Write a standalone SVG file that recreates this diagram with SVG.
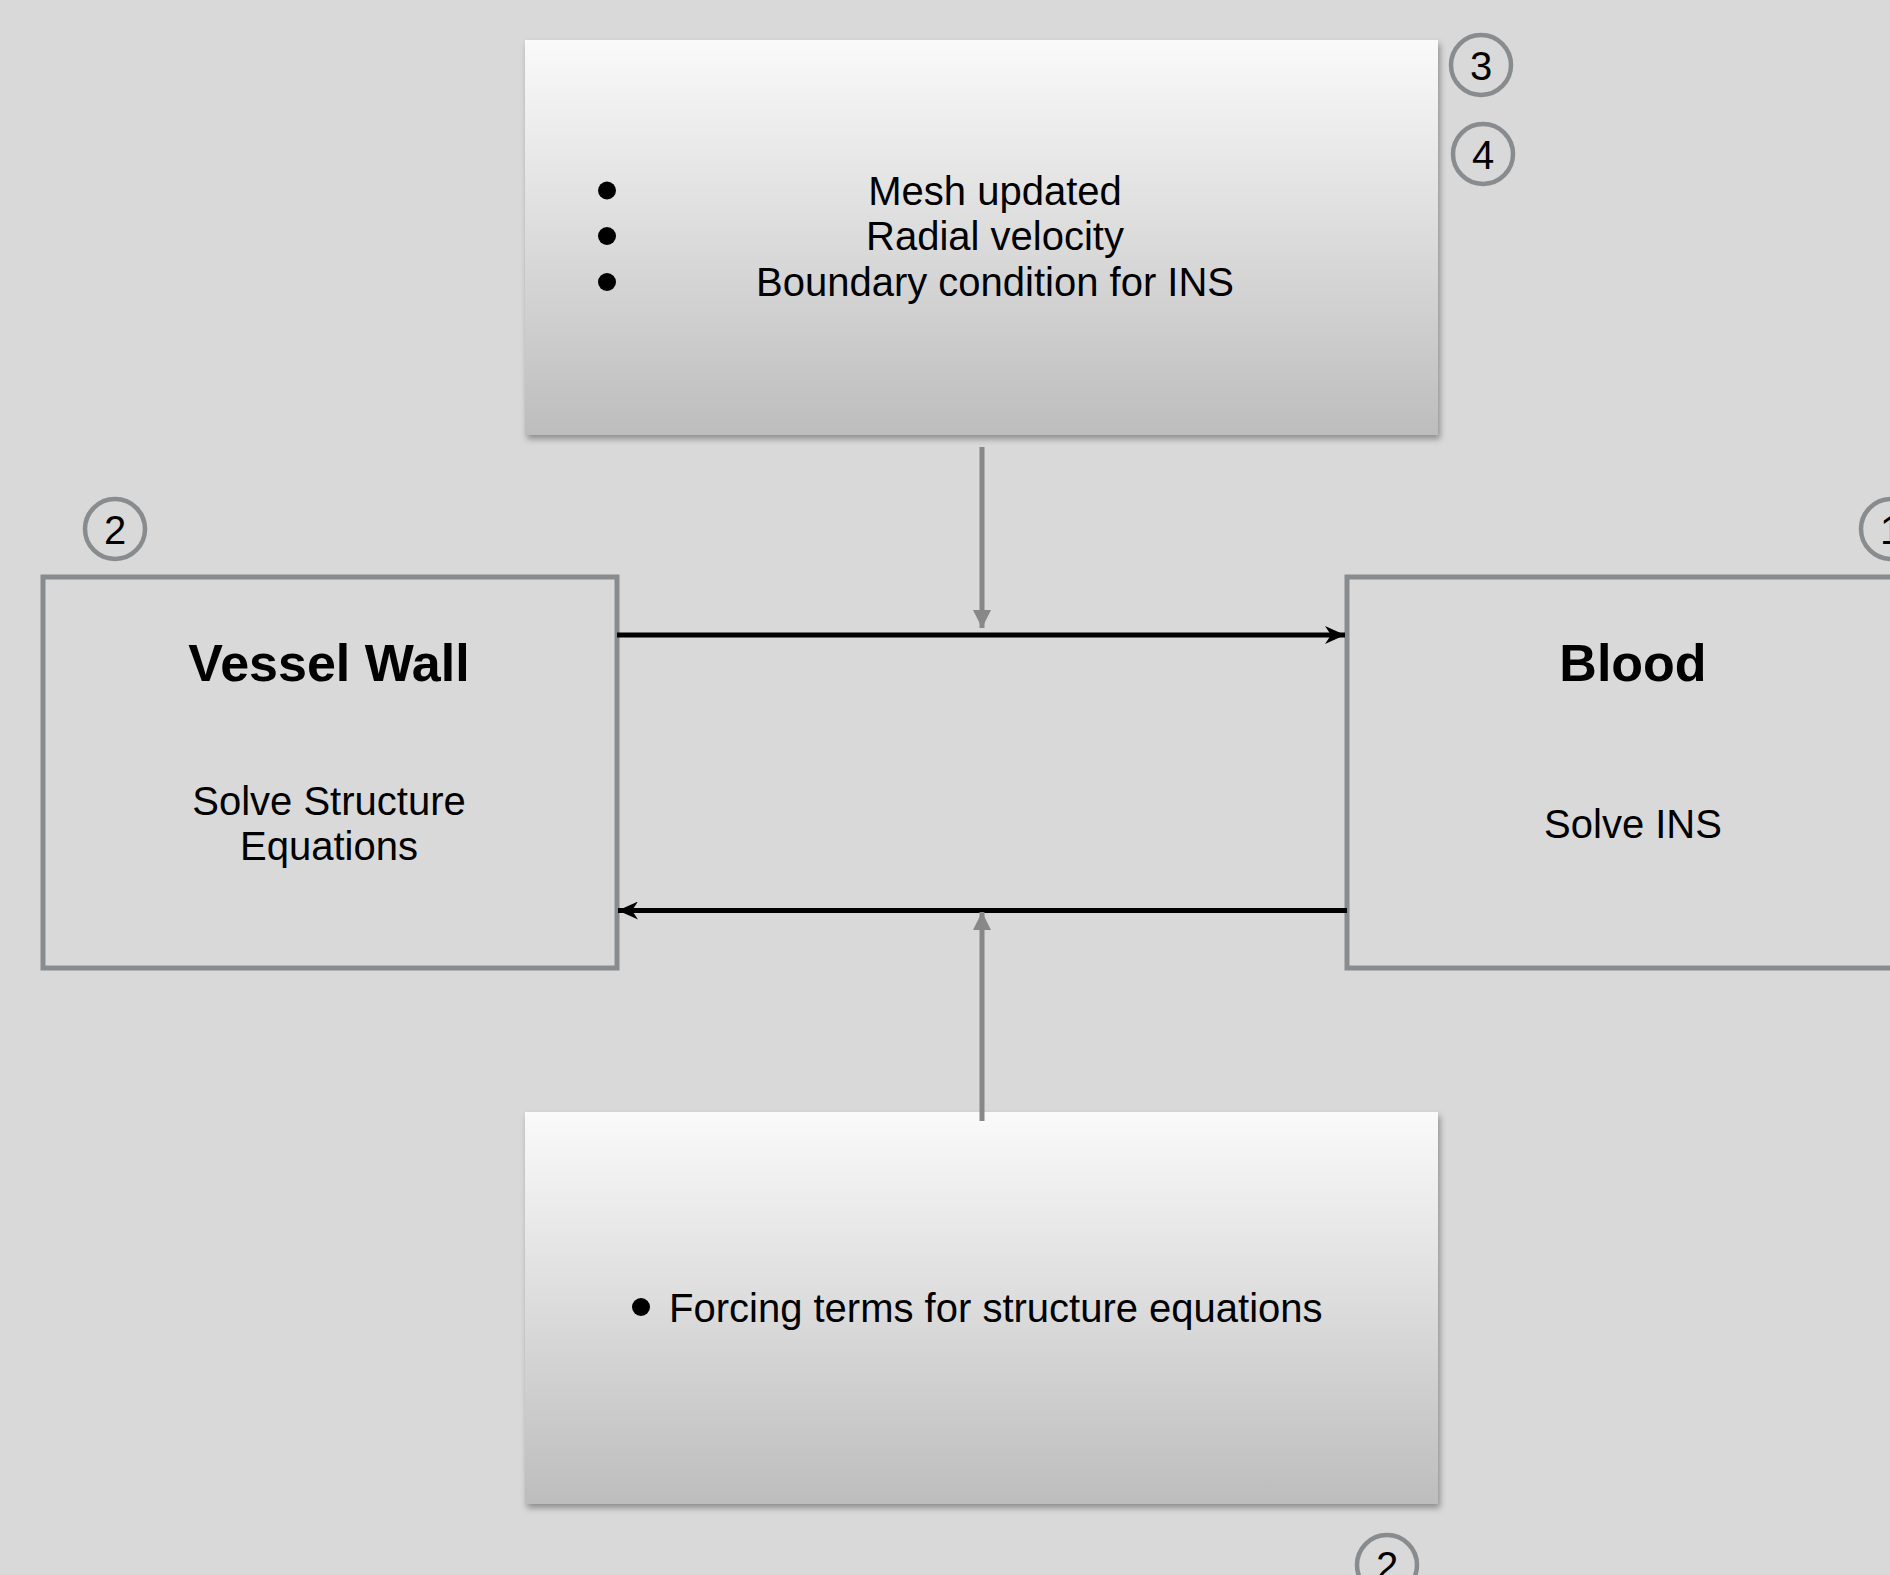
<svg xmlns="http://www.w3.org/2000/svg" width="1890" height="1575" viewBox="0 0 1890 1575">
<style>
.bg{fill:#d9d9d9}
.grad{fill:url(#g1);filter:url(#sh)}
.box{fill:#d9d9d9;stroke:#898c8f;stroke-width:5}
.badge{fill:none;stroke:#898c8f;stroke-width:4.5}
.t{font-family:"Liberation Sans",Arial,sans-serif;font-size:40px;fill:#000}
.title{font-family:"Liberation Sans",Arial,sans-serif;font-size:52px;font-weight:bold;fill:#000}
.mid{text-anchor:middle}
.blk{stroke:#000;stroke-width:5;fill:none}
.gry{stroke:#888;stroke-width:5;fill:none}
</style>
<defs>
<linearGradient id="g1" x1="0" y1="0" x2="0" y2="1">
<stop offset="0" stop-color="#fafafa"/>
<stop offset="1" stop-color="#bdbdbd"/>
</linearGradient>
<filter id="sh" x="-5%" y="-5%" width="110%" height="115%">
<feDropShadow dx="2" dy="4" stdDeviation="3" flood-color="#000" flood-opacity="0.35"/>
</filter>
<marker id="ab" markerUnits="userSpaceOnUse" viewBox="0 0 20 18" refX="20" refY="9" markerWidth="20" markerHeight="18" orient="auto">
<path d="M0,0 L20,9 L0,18 L6,9 z" fill="#000"/>
</marker>
<marker id="ag" markerUnits="userSpaceOnUse" viewBox="0 0 18 18" refX="18" refY="9" markerWidth="18" markerHeight="18" orient="auto">
<path d="M0,0 L18,9 L0,18 z" fill="#888"/>
</marker>
</defs>
<rect class="bg" x="0" y="0" width="1890" height="1575"/>

<g id="top-box">
<rect class="grad" x="525" y="40" width="913" height="395"/>
<circle cx="607" cy="190.5" r="9"/>
<circle cx="607" cy="236" r="9"/>
<circle cx="607" cy="282" r="9"/>
<text class="t mid" x="995" y="205">Mesh updated</text>
<text class="t mid" x="995" y="250">Radial velocity</text>
<text class="t mid" x="995" y="296">Boundary condition for INS</text>
</g>

<g id="bottom-box">
<rect class="grad" x="525" y="1112" width="913" height="392"/>
<circle cx="641" cy="1307" r="9"/>
<text class="t" x="669" y="1322">Forcing terms for structure equations</text>
</g>

<g id="vessel-wall">
<rect class="box" x="43" y="577" width="574" height="391"/>
<text class="title mid" x="329" y="681">Vessel Wall</text>
<text class="t mid" x="329" y="815">Solve Structure</text>
<text class="t mid" x="329" y="860">Equations</text>
</g>

<g id="blood">
<rect class="box" x="1347" y="577" width="574" height="391"/>
<text class="title mid" x="1633" y="681">Blood</text>
<text class="t mid" x="1633" y="838">Solve INS</text>
</g>

<g id="badge-3"><circle class="badge" cx="1481" cy="65" r="30"/><text class="t mid" x="1481" y="80">3</text></g>
<g id="badge-4"><circle class="badge" cx="1483" cy="154" r="30"/><text class="t mid" x="1483" y="169">4</text></g>
<g id="badge-2a"><circle class="badge" cx="115" cy="529" r="30"/><text class="t mid" x="115" y="544">2</text></g>
<g id="badge-1"><circle class="badge" cx="1891" cy="529" r="30"/><text class="t mid" x="1891" y="544">1</text></g>
<g id="badge-2b"><circle class="badge" cx="1387" cy="1565" r="30"/><text class="t mid" x="1387" y="1580">2</text></g>

<g id="connectors">
<line class="blk" x1="617" y1="635" x2="1345" y2="635" marker-end="url(#ab)"/>
<line class="blk" x1="1347" y1="910.5" x2="618" y2="910.5" marker-end="url(#ab)"/>
<line class="gry" x1="982" y1="447" x2="982" y2="628" marker-end="url(#ag)"/>
<line class="gry" x1="982" y1="1121" x2="982" y2="912" marker-end="url(#ag)"/>
</g>
</svg>
